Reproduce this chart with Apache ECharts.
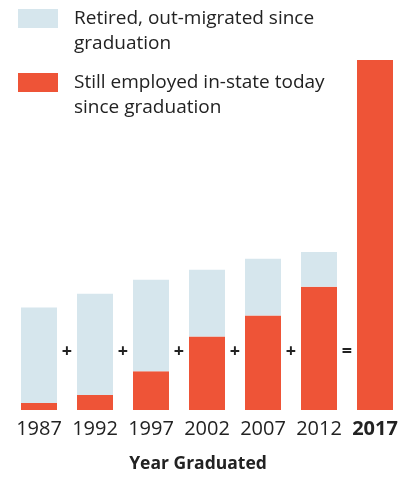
<!DOCTYPE html>
<html>
<head>
<meta charset="utf-8">
<script src="https://cdn.jsdelivr.net/npm/echarts@6/dist/echarts.min.js"></script>
<style>
html,body{margin:0;padding:0;background:#fff;}
#chart{width:409px;height:478px;}
</style>
</head>
<body>
<div id="chart"></div>
<script>
var categories = ['1987', '1992', '1997', '2002', '2007', '2012', '2017'];
var stillEmployed = [7, 15, 39, 74, 95, 124, 352];
var outMigrated = [96, 102, 92, 67, 57, 35, 0];
var operators = ['+', '+', '+', '+', '+', '='];
var legendNames = ['Retired, out-migrated since\ngraduation', 'Still employed in-state today\nsince graduation'];

var FONT = '"Open Sans", Lato, sans-serif';
var RED = '#EE5437';
var BLUE = '#D6E6ED';
var INK = '#222222';
var OP_LEVEL = 58;

var chart = echarts.init(document.getElementById('chart'));
var opData = operators.map(function (op, i) { return [i, OP_LEVEL, op]; });

function legendBlock(name, top) {
  return {
    data: [name], orient: 'vertical', left: 18, top: top, padding: 0,
    itemWidth: 40, itemHeight: 19, itemGap: 0, selectedMode: false,
    icon: 'rect',
    formatter: function (n) {
      return ' \n' + n.split('\n').map(function (s) { return '{t|' + s + '}'; }).join('\n');
    },
    textStyle: {
      fontFamily: FONT, fontSize: 19, color: INK, lineHeight: 25,
      rich: { t: { fontFamily: FONT, fontSize: 19, color: INK, lineHeight: 25, padding: [0, 0, 0, 11] } }
    }
  };
}

chart.setOption({
  animation: false,
  legend: [legendBlock(legendNames[0], -19), legendBlock(legendNames[1], 45)],
  grid: { left: 11, right: 6, top: 60, bottom: 66 },
  xAxis: {
    type: 'category',
    data: categories,
    axisLine: { show: false },
    axisTick: { show: false },
    axisLabel: {
      interval: 0,
      margin: 9,
      fontFamily: FONT, fontSize: 20, color: INK,
      formatter: function (v, i) { return i === categories.length - 1 ? '{b|' + v + '}' : v; },
      rich: { b: { fontFamily: FONT, fontSize: 20, fontWeight: 'bold', color: INK } }
    },
    name: 'Year Graduated',
    nameLocation: 'middle',
    nameGap: 45,
    nameTextStyle: { fontFamily: FONT, fontSize: 17.5, fontWeight: 'bold', color: INK, padding: [0, 18, 0, 0] }
  },
  yAxis: { type: 'value', min: 0, max: 352, show: false },
  series: [
    {
      name: legendNames[1], type: 'bar', stack: 'total', data: stillEmployed,
      barWidth: 36, itemStyle: { color: RED }
    },
    {
      name: legendNames[0], type: 'bar', stack: 'total', data: outMigrated,
      barWidth: 36, itemStyle: { color: BLUE }
    },
    {
      type: 'custom', data: opData, silent: true,
      renderItem: function (params, api) {
        var i = api.value(0);
        var a = api.coord([i, api.value(1)]);
        var b = api.coord([i + 1, api.value(1)]);
        return {
          type: 'text',
          style: {
            text: operators[i], x: (a[0] + b[0]) / 2, y: a[1],
            align: 'center', verticalAlign: 'middle',
            font: 'bold 18px ' + FONT, fill: INK
          }
        };
      }
    }
  ]
});
</script>
</body>
</html>
